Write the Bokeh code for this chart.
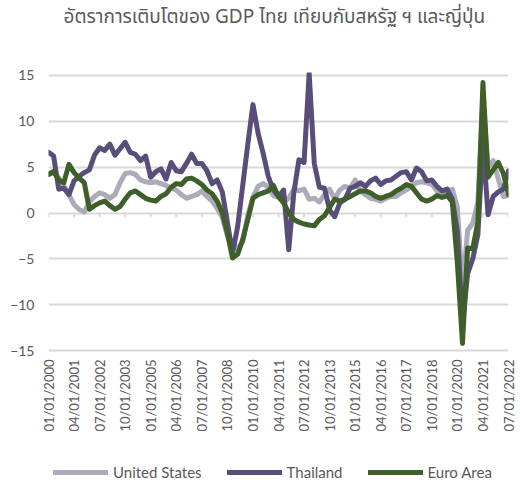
import math
from bokeh.plotting import figure
from bokeh.layouts import column
from bokeh.models import FixedTicker, Legend, LegendItem, ColumnDataSource, Range1d, Title
from bokeh.embed import file_html
from bokeh.resources import INLINE

title_text = "อัตราการเติบโตของ GDP ไทย เทียบกับสหรัฐ ฯ และญี่ปุ่น"

# quarterly categories 2000Q1 .. 2022Q3
quarters = [f"{m:02d}/01/{y}" for y in range(2000, 2023) for m in (1, 4, 7, 10)][:91]

united_states = [
    4.2, 4.6, 3.8, 3.0, 2.0, 0.9, 0.4, 0.1, 1.2, 1.8,
    2.2, 2.0, 1.6, 2.0, 3.3, 4.3, 4.4, 4.2, 3.6, 3.4,
    3.3, 3.4, 3.2, 3.0, 2.7, 2.5, 2.0, 1.6, 1.8, 2.0,
    2.4, 1.8, 1.3, 0.5, -0.5, -2.5, -3.3, -3.9, -3.1, -0.2,
    1.7, 2.9, 3.2, 2.8, 1.9, 1.7, 1.2, 1.6, 2.6, 2.4,
    2.6, 1.5, 1.6, 1.2, 2.0, 2.6, 1.5, 2.5, 2.9, 2.7,
    3.6, 2.4, 2.0, 1.6, 1.5, 1.3, 1.6, 1.8, 1.8, 2.2,
    2.5, 2.9, 3.3, 3.4, 3.3, 3.1, 2.4, 2.2, 2.3, 2.6,
    0.6, -8.4, -1.9, -1.1, 1.2, 12.2, 5.0, 5.7, 3.7, 1.8,
    1.9,
]

thailand = [
    6.6, 6.2, 2.6, 2.7, 2.0, 3.5, 4.0, 4.4, 4.7, 6.3,
    7.1, 6.8, 7.5, 6.3, 7.0, 7.7, 6.6, 6.4, 5.7, 6.2,
    3.9, 4.5, 4.8, 3.7, 5.5, 4.6, 4.5, 5.4, 6.4, 5.4,
    5.4, 4.6, 3.2, 3.6, 2.3, -1.0, -4.4, -1.5, 3.0, 7.5,
    11.8, 8.7, 6.5, 4.0, 2.5, 1.8, 2.5, -4.0, 2.2, 5.8,
    5.5, 15.2, 5.4, 2.8, 2.7, 0.3, -0.4, 1.1, 1.5, 2.7,
    2.9, 3.3, 2.9, 3.5, 3.8, 3.1, 3.5, 3.6, 4.0, 4.4,
    4.5, 3.6, 4.9, 4.5, 3.5, 3.6, 2.9, 2.4, 2.6, 1.5,
    -2.0, -12.1, -6.6, -5.0, -2.4, 7.7, -0.2, 1.8, 2.3, 2.6,
    4.6,
]

euro_area = [
    4.2, 4.5, 3.6, 3.3, 5.3, 4.4, 3.8, 3.3, 0.4, 0.8,
    1.1, 1.3, 0.8, 0.4, 0.7, 1.5, 2.2, 2.4, 2.0, 1.6,
    1.4, 1.3, 1.8, 2.1, 2.8, 3.2, 3.1, 3.7, 3.8, 3.5,
    3.1, 2.5, 2.1, 1.3, 0.0, -2.2, -4.9, -4.5, -2.9, -0.7,
    1.6, 2.0, 2.2, 2.4, 3.0, 1.8, 1.1, 0.0, -0.7, -1.0,
    -1.2, -1.3, -1.4, -0.7, -0.3, 0.6, 1.5, 1.3, 1.5, 1.8,
    2.1, 2.4, 2.4, 2.2, 1.8, 1.6, 1.8, 2.0, 2.4, 2.7,
    3.1, 2.9, 2.2, 1.5, 1.3, 1.5, 1.9, 1.7, 1.9, 1.2,
    -5.5, -14.2, -3.8, -3.9, -1.0, 14.2, 3.9, 4.7, 5.5, 4.3,
    2.0,
]

y_ticks = [-15, -10, -5, 0, 5, 10, 15]
tick_step = 5

series_names = ["United States", "Thailand", "Euro Area"]
series_colors = ["#ABABBA", "#594D7A", "#3F5F2A"]

idx = list(range(len(quarters)))
x_ticks = idx[::tick_step]
x_tick_labels = {i: quarters[i] for i in x_ticks}

TEXT = "#595959"
FONT = "Lato"
W = 520


def strip(height):
    f = figure(width=W, height=height, output_backend="svg", toolbar_location=None,
               x_range=Range1d(0, 1), y_range=Range1d(0, 1),
               x_axis_location=None, y_axis_location=None, min_border=0)
    f.outline_line_color = None
    f.grid.visible = False
    f.title.visible = False
    return f


# ---- title strip ----
head = strip(40)
t = Title(text=title_text, align="left", vertical_align="bottom", offset=15,
          text_font="'Noto Sans Thai', 'Noto Sans'", text_font_size="19px",
          text_color=TEXT, text_font_style="normal")
try:
    t.standoff = 0
except AttributeError:
    pass
head.add_layout(t, "above")

# ---- main chart ----
p = figure(width=W, height=422, output_backend="svg", toolbar_location=None,
           x_range=Range1d(0, len(quarters) - 1), y_range=Range1d(-15.3, 15.3),
           min_border_left=48, min_border_right=12, min_border_top=32, min_border_bottom=109)
p.outline_line_color = None

p.xgrid.visible = False
p.ygrid.ticker = FixedTicker(ticks=y_ticks)
p.ygrid.grid_line_color = "#D9D9D9"
p.ygrid.grid_line_width = 2

p.yaxis.ticker = FixedTicker(ticks=y_ticks)
p.yaxis.axis_line_color = None
p.yaxis.major_tick_line_color = None
p.yaxis.minor_tick_line_color = None
p.yaxis.major_tick_out = 0
p.yaxis.major_tick_in = 0
p.yaxis.major_label_standoff = 14
p.yaxis.major_label_text_font = FONT
p.yaxis.major_label_text_font_size = "14px"
p.yaxis.major_label_text_color = TEXT

p.xaxis.ticker = FixedTicker(ticks=x_ticks)
p.xaxis.major_label_overrides = x_tick_labels
p.xaxis.major_label_orientation = math.pi / 2
p.xaxis.axis_line_color = None
p.xaxis.major_tick_line_color = None
p.xaxis.minor_tick_line_color = None
p.xaxis.major_tick_out = 0
p.xaxis.major_tick_in = 0
p.xaxis.major_label_standoff = 6
p.xaxis.major_label_text_font = FONT
p.xaxis.major_label_text_font_size = "13px"
p.xaxis.major_label_text_color = TEXT

# small tick marks on the zero line
p.segment(x0=x_ticks, y0=[0] * len(x_ticks), x1=x_ticks, y1=[-0.45] * len(x_ticks),
          line_color="#D9D9D9", line_width=2)

src = ColumnDataSource(dict(x=idx, us=united_states, th=thailand, eu=euro_area))
for col, color in zip(["us", "th", "eu"], series_colors):
    p.line("x", col, source=src, line_color=color, line_width=5,
           line_join="round", line_cap="round")

# ---- legend strip (frame aligned with the main chart's frame) ----
leg = strip(22)
items = []
for name, color in zip(series_names, series_colors):
    r = leg.line(x=[float("nan")], y=[float("nan")], line_color=color, line_width=5,
                 line_cap="round")
    items.append(LegendItem(label=name, renderers=[r]))
legend = Legend(items=items, orientation="horizontal", location=(5, 3),
                glyph_width=55, glyph_height=16, label_height=16, label_standoff=5, spacing=25,
                padding=0, margin=0, border_line_color=None, background_fill_alpha=0,
                label_text_font=FONT, label_text_font_size="15px", label_text_color=TEXT)
leg.add_layout(legend, "center")

layout = column(head, p, leg, spacing=0)
open("out.html", "w").write(file_html(layout, INLINE))
